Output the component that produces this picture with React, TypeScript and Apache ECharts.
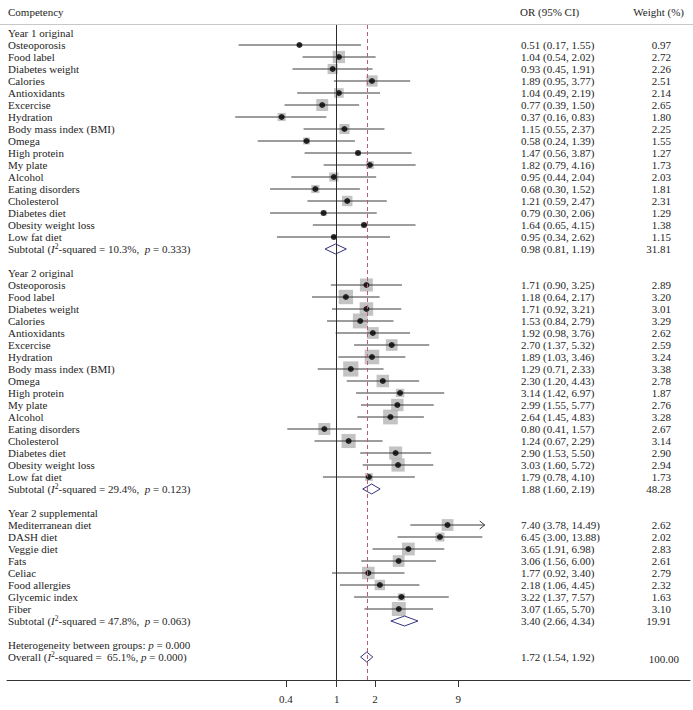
import React, { useEffect, useRef } from "react";
import * as echarts from "echarts";

const FONT = '"Liberation Serif", "Times New Roman", serif';

// ---------- data ----------
const groupTitles = ["Year 1 original", "Year 2 original", "Year 2 supplemental"];

const y1Names = ["Osteoporosis", "Food label", "Diabetes weight", "Calories", "Antioxidants", "Excercise", "Hydration", "Body mass index (BMI)", "Omega", "High protein", "My plate", "Alcohol", "Eating disorders", "Cholesterol", "Diabetes diet", "Obesity weight loss", "Low fat diet"];
const y1OR = [0.51, 1.04, 0.93, 1.89, 1.04, 0.77, 0.37, 1.15, 0.58, 1.47, 1.82, 0.95, 0.68, 1.21, 0.79, 1.64, 0.95];
const y1Lo = [0.17, 0.54, 0.45, 0.95, 0.49, 0.39, 0.16, 0.55, 0.24, 0.56, 0.79, 0.44, 0.30, 0.59, 0.30, 0.65, 0.34];
const y1Hi = [1.55, 2.02, 1.91, 3.77, 2.19, 1.50, 0.83, 2.37, 1.39, 3.87, 4.16, 2.04, 1.52, 2.47, 2.06, 4.15, 2.62];
const y1W = [0.97, 2.72, 2.26, 2.51, 2.14, 2.65, 1.80, 2.25, 1.55, 1.27, 1.73, 2.03, 1.81, 2.31, 1.29, 1.38, 1.15];

const y2Names = ["Osteoporosis", "Food label", "Diabetes weight", "Calories", "Antioxidants", "Excercise", "Hydration", "Body mass index (BMI)", "Omega", "High protein", "My plate", "Alcohol", "Eating disorders", "Cholesterol", "Diabetes diet", "Obesity weight loss", "Low fat diet"];
const y2OR = [1.71, 1.18, 1.71, 1.53, 1.92, 2.70, 1.89, 1.29, 2.30, 3.14, 2.99, 2.64, 0.80, 1.24, 2.90, 3.03, 1.79];
const y2Lo = [0.90, 0.64, 0.92, 0.84, 0.98, 1.37, 1.03, 0.71, 1.20, 1.42, 1.55, 1.45, 0.41, 0.67, 1.53, 1.60, 0.78];
const y2Hi = [3.25, 2.17, 3.21, 2.79, 3.76, 5.32, 3.46, 2.33, 4.43, 6.97, 5.77, 4.83, 1.57, 2.29, 5.50, 5.72, 4.10];
const y2W = [2.89, 3.20, 3.01, 3.29, 2.62, 2.59, 3.24, 3.38, 2.78, 1.87, 2.76, 3.28, 2.67, 3.14, 2.90, 2.94, 1.73];

const y3Names = ["Mediterranean diet", "DASH diet", "Veggie diet", "Fats", "Celiac", "Food allergies", "Glycemic index", "Fiber"];
const y3OR = [7.40, 6.45, 3.65, 3.06, 1.77, 2.18, 3.22, 3.07];
const y3Lo = [3.78, 3.00, 1.91, 1.56, 0.92, 1.06, 1.37, 1.65];
const y3Hi = [14.49, 13.88, 6.98, 6.00, 3.40, 4.45, 7.57, 5.70];
const y3W = [2.62, 2.02, 2.83, 2.61, 2.79, 2.32, 1.63, 3.10];

const subOR = [0.98, 1.88, 3.40];
const subLo = [0.81, 1.60, 2.66];
const subHi = [1.19, 2.19, 4.34];
const subW = [31.81, 48.28, 19.91];
const subI2 = ["10.3", "29.4", "47.8"];
const subP = ["0.333", "0.123", "0.063"];

const overallOR = 1.72;
const overallLo = 1.54;
const overallHi = 1.92;
const overallW = 100.0;
const overallI2 = "65.1";
const overallP = "0.000";
const betweenP = "0.000";

const xTicks = [0.4, 1, 2, 9];
const arrowCap = 14.0;

// ---------- build rows ----------
type Row = {
  row: number;
  kind: "title" | "study" | "subtotal" | "het" | "overall";
  label: string;
  or?: number; lo?: number; hi?: number; w?: number; i2?: string; p?: string;
};

const groups = [
  { names: y1Names, or: y1OR, lo: y1Lo, hi: y1Hi, w: y1W },
  { names: y2Names, or: y2OR, lo: y2Lo, hi: y2Hi, w: y2W },
  { names: y3Names, or: y3OR, lo: y3Lo, hi: y3Hi, w: y3W },
];

const rows: Row[] = [];
{
  let r = 0;
  groups.forEach((g, gi) => {
    rows.push({ row: r++, kind: "title", label: groupTitles[gi] });
    g.names.forEach((n, i) => {
      rows.push({ row: r++, kind: "study", label: n, or: g.or[i], lo: g.lo[i], hi: g.hi[i], w: g.w[i] });
    });
    rows.push({ row: r++, kind: "subtotal", label: "Subtotal", or: subOR[gi], lo: subLo[gi], hi: subHi[gi], w: subW[gi], i2: subI2[gi], p: subP[gi] });
    r++;
  });
  rows.push({ row: r++, kind: "het", label: "Heterogeneity between groups", p: betweenP });
  rows.push({ row: r++, kind: "overall", label: "Overall", or: overallOR, lo: overallLo, hi: overallHi, w: overallW, i2: overallI2, p: overallP });
}

const studies = rows.filter((r) => r.kind === "study");
const pooled = rows.filter((r) => r.kind === "subtotal" || r.kind === "overall");
const L = (v: number) => Math.log10(v);

const TEXT_COLOR = "#1e1e1e";
const rich = {
  n: { fontFamily: FONT, fontSize: 11, fill: TEXT_COLOR, lineHeight: 13, verticalAlign: "middle" },
  i: { fontFamily: FONT, fontSize: 11, fontStyle: "italic", fill: TEXT_COLOR, lineHeight: 13, verticalAlign: "middle" },
  s: { fontFamily: FONT, fontSize: 7.5, fill: TEXT_COLOR, lineHeight: 8, verticalAlign: "top" },
};

function leftText(r: Row): string {
  if (r.kind === "subtotal") return `{n|Subtotal (}{i|I}{s|2}{n|-squared = ${r.i2}%,  }{i|p}{n| = ${r.p})}`;
  if (r.kind === "overall") return `{n|Overall (}{i|I}{s|2}{n|-squared =  ${r.i2}%, }{i|p}{n| = ${r.p})}`;
  if (r.kind === "het") return `{n|Heterogeneity between groups: }{i|p}{n| = ${r.p}}`;
  return `{n|${r.label}}`;
}

export default function App() {
  const ref = useRef<HTMLDivElement>(null);
  useEffect(() => {
    if (!ref.current) return;
    const chart = echarts.init(ref.current, undefined, { renderer: "svg" });
    const gridLeft = 7, gridTop = 25, gridW = 683, gridH = 655;
    const x1 = 336.7, pxPerDecade = 127.5;
    const xMin = -(x1 - gridLeft) / pxPerDecade;
    const xMax = (gridLeft + gridW - x1) / pxPerDecade;
    const rowPx = 12, firstRowY = 33;
    const yMin = -(firstRowY - gridTop) / rowPx;
    const yMax = yMin + gridH / rowPx;
    const tickLogs = xTicks.map(L);

    const option: any = {
      animation: false,
      grid: { left: gridLeft, top: gridTop, width: gridW, height: gridH, containLabel: false },
      xAxis: {
        type: "value",
        position: "bottom",
        min: xMin,
        max: xMax,
        splitLine: { show: false },
        axisLine: { show: true, onZero: false, lineStyle: { color: "#333", width: 1 } },
        axisTick: { show: true, customValues: tickLogs, length: 7, lineStyle: { color: "#333" } },
        axisLabel: {
          show: true,
          customValues: tickLogs,
          margin: 13,
          fontFamily: FONT,
          fontSize: 11,
          color: TEXT_COLOR,
          formatter: (v: number) => {
            const t = xTicks.find((tt) => Math.abs(L(tt) - v) < 1e-6);
            return t == null ? "" : String(t);
          },
        },
      },
      yAxis: { type: "value", inverse: true, min: yMin, max: yMax, show: false },
      graphic: [
        { type: "line", shape: { x1: 0, y1: 24.5, x2: 693, y2: 24.5 }, style: { stroke: "#c8c8c8", lineWidth: 1 }, silent: true },
        { type: "text", x: 8, y: 12, style: { text: "Competency", fontFamily: FONT, fontSize: 11, fill: TEXT_COLOR, verticalAlign: "middle" } },
        { type: "text", x: 520, y: 12, style: { text: "OR (95% CI)", fontFamily: FONT, fontSize: 11, fill: TEXT_COLOR, verticalAlign: "middle" } },
        { type: "text", x: 684, y: 12, style: { text: "Weight (%)", fontFamily: FONT, fontSize: 11, fill: TEXT_COLOR, verticalAlign: "middle", align: "right" } },
      ],
      series: [
        {
          type: "scatter",
          name: "boxes",
          data: studies.map((s) => [L(s.or!), s.row, s.w]),
          symbol: "rect",
          symbolSize: (val: number[]) => 4.5 * val[2],
          itemStyle: { color: "#b4b4b4" },
          silent: true,
          z: 2,
          markLine: {
            silent: true,
            symbol: "none",
            label: { show: false },
            data: [
              { xAxis: 0, lineStyle: { color: "#2a2a2a", width: 1, type: "solid" } },
              { xAxis: L(overallOR), lineStyle: { color: "#b8606c", width: 1, type: [4, 3] } },
            ],
          },
        },
        {
          type: "custom",
          name: "ci",
          data: studies.map((s) => [L(s.lo!), L(s.hi!), s.row, s.hi! > arrowCap ? 1 : 0]),
          encode: { x: [0, 1], y: 2 },
          z: 3,
          renderItem: (params: any, api: any) => {
            const a = api.coord([api.value(0), api.value(2)]);
            const b = api.coord([api.value(1), api.value(2)]);
            const children: any[] = [
              { type: "line", shape: { x1: a[0], y1: a[1], x2: b[0], y2: b[1] }, style: { stroke: "#3a3a3a", lineWidth: 1 } },
            ];
            if (api.value(3) === 1) {
              children.push({
                type: "polyline",
                shape: { points: [[b[0] - 5, b[1] - 4], [b[0], b[1]], [b[0] - 5, b[1] + 4]] },
                style: { stroke: "#3a3a3a", lineWidth: 1, fill: "none" },
              });
            }
            return { type: "group", children };
          },
        },
        {
          type: "scatter",
          name: "points",
          data: studies.map((s) => [L(s.or!), s.row]),
          symbol: "circle",
          symbolSize: 6,
          itemStyle: { color: "#000" },
          silent: true,
          z: 4,
        },
        {
          type: "custom",
          name: "diamonds",
          data: pooled.map((s) => [L(s.lo!), L(s.or!), L(s.hi!), s.row]),
          encode: { x: [0, 1, 2], y: 3 },
          z: 4,
          renderItem: (params: any, api: any) => {
            const lo = api.coord([api.value(0), api.value(3)]);
            const mid = api.coord([api.value(1), api.value(3)]);
            const hi = api.coord([api.value(2), api.value(3)]);
            const h = 5;
            return {
              type: "polygon",
              shape: { points: [[lo[0], lo[1]], [mid[0], mid[1] - h], [hi[0], hi[1]], [mid[0], mid[1] + h]] },
              style: { stroke: "#33337f", lineWidth: 1, fill: "rgba(255,255,255,0)" },
            };
          },
        },
        {
          type: "custom",
          name: "texts",
          data: rows.map((r) => [0, r.row]),
          encode: { x: 0, y: 1 },
          z: 5,
          silent: true,
          renderItem: (params: any, api: any) => {
            const r = rows[params.dataIndex];
            const y = api.coord([0, r.row])[1];
            const children: any[] = [
              { type: "text", x: 8, y, style: { text: leftText(r), rich, fontFamily: FONT, fontSize: 11, fill: TEXT_COLOR, verticalAlign: "middle" } },
            ];
            if (r.or != null) {
              children.push({
                type: "text", x: 521, y,
                style: { text: `${r.or.toFixed(2)} (${r.lo!.toFixed(2)}, ${r.hi!.toFixed(2)})`, fontFamily: FONT, fontSize: 11, fill: TEXT_COLOR, verticalAlign: "middle" },
              });
            }
            if (r.w != null) {
              const isOverall = r.kind === "overall";
              children.push({
                type: "text", x: isOverall ? 679 : 671, y: isOverall ? y + 2 : y,
                style: { text: r.w.toFixed(2), fontFamily: FONT, fontSize: 11, fill: TEXT_COLOR, verticalAlign: "middle", align: "right" },
              });
            }
            return { type: "group", children };
          },
        },
      ],
    };
    chart.setOption(option);
    return () => chart.dispose();
  }, []);
  return <div ref={ref} style={{ position: "fixed", left: 0, top: 0, width: 693, height: 710, background: "#fff" }} />;
}
